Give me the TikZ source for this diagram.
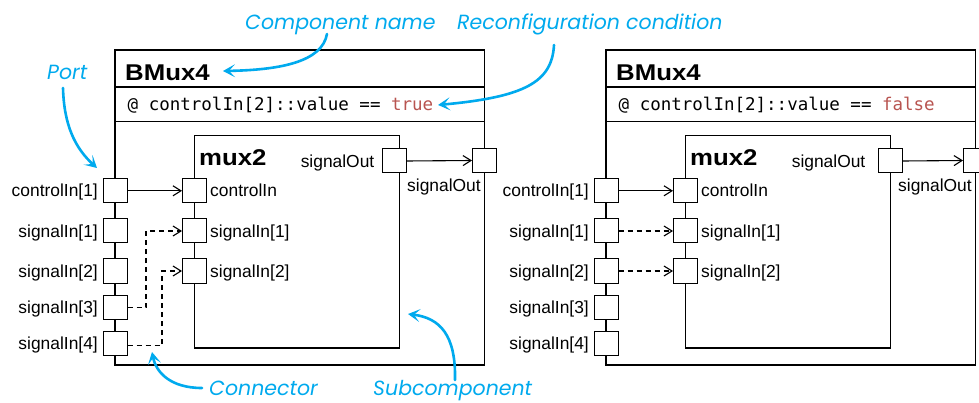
\documentclass[tikz,border=0pt]{standalone}
\usepackage{fontspec}
\setmainfont{Liberation Sans}
\newfontfamily\titlefont[FakeStretch=1.13]{Liberation Sans}
\newfontfamily\condfont{DejaVu Sans Mono}
\newfontfamily\handfont{Poppins}
\usetikzlibrary{arrows.meta}
\definecolor{annot}{RGB}{0,170,238}
\definecolor{condred}{RGB}{184,84,80}

\tikzset{
  compbox/.style={draw, line width=1.8pt, inner sep=0pt, outer sep=0pt, anchor=north west},
  subbox/.style={draw, line width=1.6pt, inner sep=0pt, outer sep=0pt, anchor=north west},
  sepline/.style={line width=1.8pt},
  port/.style={draw, fill=white, line width=1pt, minimum size=24pt, inner sep=0pt},
  lbl/.style={inner sep=0pt, font=\fontsize{17.4}{20}\selectfont},
  ttl/.style={inner sep=0pt, font=\titlefont\bfseries\fontsize{22.8}{26}\selectfont},
  cond/.style={inner sep=0pt, font=\condfont\fontsize{17.5}{20}\selectfont},
  conn/.style={line width=1.1pt, -{Straight Barb[length=8pt,width=10pt]}},
  dconn/.style={conn, dash pattern=on 5pt off 4pt},
  note/.style={inner sep=0pt, anchor=base west, text=annot, font=\handfont\itshape\fontsize{20.5}{24}\selectfont},
  callout/.style={draw=annot, line width=2.6pt, line cap=round, -{Stealth[length=12pt,width=13pt,inset=6pt]}},
}

% One BMux4 component: #1 name prefix, #2 horizontal offset,
% #3 value in the condition, #4 x of the subcomponent's output port
\newcommand\drawbmux[4]{%
\begin{scope}[xshift=#2pt]
  \node[compbox, minimum width=369.5pt, minimum height=315pt] (#1-box) at (115,50) {};
  \draw[sepline] (#1-box.west |- 0,87) -- (#1-box.east |- 0,87);
  \draw[sepline] (#1-box.west |- 0,121.5) -- (#1-box.east |- 0,121.5);
  \node[ttl, anchor=base west] (#1-name) at (125,80.7) {BMux4};
  \node[cond, anchor=base west] (#1-cond) at (127.5,110.8) {@ controlIn[2]::value == \textcolor{condred}{#3}};
  % subcomponent mux2
  \node[subbox, minimum width=205pt, minimum height=212.5pt] (#1-mux) at (194.5,135.5) {};
  \node[ttl, anchor=base west] (#1-muxname) at (199,166) {mux2};
  % ports of BMux4
  \node[port] (#1-ctl) at (115,190.8) {};
  \node[port] (#1-s1) at (115,231) {};
  \node[port] (#1-s2) at (115,271) {};
  \node[port] (#1-s3) at (115,307.5) {};
  \node[port] (#1-s4) at (115,343.2) {};
  \node[port] (#1-out) at (484.5,160.5) {};
  % ports of mux2
  \node[port] (#1-mctl) at (194.5,190.8) {};
  \node[port] (#1-ms1) at (194.5,231) {};
  \node[port] (#1-ms2) at (194.5,271) {};
  \node[port] (#1-mout) at (#4,161) {};
  % port labels
  \node[lbl, anchor=base east] (#1-lctl) at (98,197) {controlIn[1]};
  \node[lbl, anchor=base east] (#1-ls1) at (98,237.2) {signalIn[1]};
  \node[lbl, anchor=base east] (#1-ls2) at (98,277.2) {signalIn[2]};
  \node[lbl, anchor=base east] (#1-ls3) at (98,313.7) {signalIn[3]};
  \node[lbl, anchor=base east] (#1-ls4) at (98,349.4) {signalIn[4]};
  \node[lbl, anchor=base west] (#1-lout) at (407,191.5) {signalOut};
  \node[lbl, anchor=base west] (#1-lmctl) at (210,197) {controlIn};
  \node[lbl, anchor=base west] (#1-lms1) at (210,237.2) {signalIn[1]};
  \node[lbl, anchor=base west] (#1-lms2) at (210,277.2) {signalIn[2]};
  \node[lbl, anchor=base east] (#1-lmout) at (374.5,167.2) {signalOut};
  % fixed connectors
  \draw[conn] (#1-ctl.east) -- (#1-mctl.west);
  \draw[conn] (#1-mout.east) -- (#1-out.west);
\end{scope}}

\begin{document}
\begin{tikzpicture}[x=1pt, y=-1pt]
  \fill[white] (0,0) rectangle (979,403);
  \useasboundingbox (0,0) rectangle (979,403);
  \clip (0,0) rectangle (979,403);

  \drawbmux{L}{0}{true}{394}
  \drawbmux{R}{491}{false}{399.5}

  % reconfigurable connectors, left configuration
  \draw[dconn] (L-s3.east) -- ++(18.5,0) |- (L-ms1.west);
  \draw[dconn] ([yshift=-2.5pt]L-s4.east) -- ++(34.5,0) |- (L-ms2.west);
  % reconfigurable connectors, right configuration
  \draw[dconn] (R-s1.east) -- (R-ms1.west);
  \draw[dconn] (R-s2.east) -- (R-ms2.west);

  % annotations
  \node[note] (n-comp) at (245,29.5) {Component name};
  \node[note] (n-cond) at (457,30) {Reconfiguration condition};
  \node[note] (n-port) at (47,79.5) {Port};
  \node[note] (n-conn) at (209,395.5) {Connector};
  \node[note] (n-sub) at (373,395.5) {Subcomponent};

  \coordinate (c-comp-a) at (327,34);
  \coordinate (c-comp-b) at (223,71);
  \coordinate (c-cond-a) at (554,45);
  \coordinate (c-cond-b) at (438,105);
  \coordinate (c-port-a) at (63,88);
  \coordinate (c-port-b) at (97,168);
  \coordinate (c-conn-a) at (202,388);
  \coordinate (c-conn-b) at (152,352);
  \coordinate (c-sub-a) at (455,380);
  \coordinate (c-sub-b) at (408,314);

  \draw[callout] (c-comp-a) .. controls (322,62) and (280,70) .. (c-comp-b);
  \draw[callout] (c-cond-a) .. controls (552,82) and (525,97) .. (c-cond-b);
  \draw[callout] (c-port-a) .. controls (64,125) and (75,148) .. (c-port-b);
  \draw[callout] (c-conn-a) .. controls (170,388) and (156,372) .. (c-conn-b);
  \draw[callout] (c-sub-a) .. controls (456,335) and (440,318) .. (c-sub-b);
\end{tikzpicture}
\end{document}
